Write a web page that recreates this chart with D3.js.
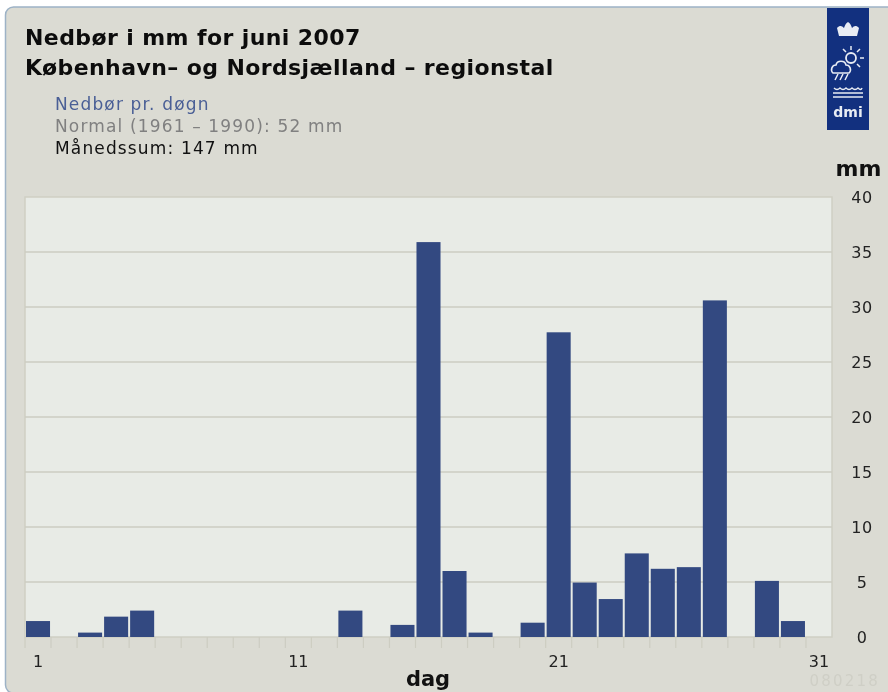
<!DOCTYPE html>
<html>

<head>
    <meta http-equiv="Content-Type" content="text/html; charset=utf-8" />
    <title>Nedbør juni 2007</title>
    <style type="text/css">
        * {
            margin: 0;
            padding: 0
        }

        html,
        body {
            width: 100%;
            height: 100%;
            background: #fff;
            overflow: hidden;
        }

        svg {
            display: block;
            /* the original is a slightly soft raster */
            filter: blur(0.45px);
        }

        text {
            font-family: "DejaVu Sans", sans-serif;
        }
    </style>
</head>

<body>
    <svg id="chart" width="888" height="692"></svg>
    <script src="https://cdn.jsdelivr.net/npm/d3@7"></script>
    <script>
        const days = d3.range(1, 32);
        const rain = [1.45, 0, 0.4, 1.85, 2.4, 0, 0, 0, 0, 0, 0, 0, 2.4, 0, 1.1, 35.9, 6.0, 0.4, 0, 1.3,
            27.7, 4.95, 3.45, 7.6, 6.2, 6.35, 30.6, 0, 5.1, 1.45, 0];
        const yTicks = [0, 5, 10, 15, 20, 25, 30, 35, 40];
        const dayLabels = [1, 11, 21, 31];
        const titleLines = ["Nedbør i mm for juni 2007", "København– og Nordsjælland – regionstal"];
        const legendLines = [
            { text: "Nedbør pr. døgn", color: "#4a5f96" },
            { text: "Normal (1961 – 1990): 52 mm", color: "#808080" },
            { text: "Månedssum: 147 mm", color: "#111111" }
        ];

        const svg = d3.select("#chart");
        const plot = { left: 25, right: 832, top: 197, bottom: 637 };

        // panel
        svg.append("path")
            .attr("d", "M5.5,684V15a8,8 0 0 1 8,-8H890V693H13.5a8,8 0 0 1 -8,-8Z")
            .attr("fill", "#dbdbd3")
            .attr("stroke", "#9db2c6")
            .attr("stroke-width", 1.5);

        const x = d3.scaleBand().domain(days).range([plot.left, plot.right]);
        const y = d3.scaleLinear().domain([0, 40]).range([plot.bottom, plot.top]);

        svg.append("rect")
            .attr("x", plot.left)
            .attr("y", plot.top)
            .attr("width", plot.right - plot.left)
            .attr("height", plot.bottom - plot.top)
            .attr("fill", "#e8ebe6")
            .attr("stroke", "#cfcfc4")
            .attr("stroke-width", 1.5);

        // gridlines
        svg.append("g").selectAll("line")
            .data(yTicks.slice(1, -1))
            .join("line")
            .attr("x1", plot.left)
            .attr("x2", plot.right)
            .attr("y1", d => y(d))
            .attr("y2", d => y(d))
            .attr("stroke", "#cdcdc2")
            .attr("stroke-width", 1.5);

        // bars
        svg.append("g").selectAll("rect")
            .data(days.filter((d, i) => rain[i] > 0))
            .join("rect")
            .attr("x", d => x(d) + 1)
            .attr("y", d => y(rain[d - 1]))
            .attr("width", x.bandwidth() - 2)
            .attr("height", d => plot.bottom - y(rain[d - 1]))
            .attr("fill", "#334981");

        // x axis: ticks on the band edges, labels in the middle of the band
        svg.append("g").selectAll("line")
            .data(days)
            .join("line")
            .attr("x1", d => x(d))
            .attr("x2", d => x(d))
            .attr("y1", plot.bottom)
            .attr("y2", plot.bottom + 11)
            .attr("stroke", "#cdcdc2")
            .attr("stroke-width", 1.2);

        svg.append("g").selectAll("text")
            .data(dayLabels)
            .join("text")
            .attr("x", d => x(d) + x.bandwidth() / 2)
            .attr("y", 667)
            .attr("text-anchor", "middle")
            .attr("font-size", 16)
            .attr("fill", "#222")
            .text(d => d);

        // y axis labels
        svg.append("g").selectAll("text")
            .data(yTicks)
            .join("text")
            .attr("x", 862)
            .attr("y", d => y(d) + 6)
            .attr("text-anchor", "middle")
            .attr("font-size", 16)
            .attr("letter-spacing", 0.5)
            .attr("fill", "#222")
            .text(d => d);

        svg.append("text")
            .attr("x", 858.5)
            .attr("y", 176)
            .attr("text-anchor", "middle")
            .attr("font-size", 22)
            .attr("font-weight", "bold")
            .attr("fill", "#111")
            .text("mm");

        svg.append("text")
            .attr("x", 428)
            .attr("y", 686)
            .attr("text-anchor", "middle")
            .attr("font-size", 21)
            .attr("font-weight", "bold")
            .attr("fill", "#111")
            .text("dag");

        svg.append("text")
            .attr("x", 880)
            .attr("y", 686)
            .attr("text-anchor", "end")
            .attr("font-size", 15)
            .attr("letter-spacing", 2.2)
            .attr("fill", "#cfcfc6")
            .text("080218");

        // titles
        svg.append("g").selectAll("text")
            .data(titleLines)
            .join("text")
            .attr("x", 25)
            .attr("y", (d, i) => 45 + i * 30)
            .attr("font-size", 22)
            .attr("font-weight", "bold")
            .attr("letter-spacing", 0.4)
            .attr("fill", "#0c0c0c")
            .text(d => d);

        svg.append("g").selectAll("text")
            .data(legendLines)
            .join("text")
            .attr("x", 55)
            .attr("y", (d, i) => 109.5 + i * 22)
            .attr("font-size", 17)
            .attr("letter-spacing", 1.15)
            .attr("fill", d => d.color)
            .text(d => d.text);

        // DMI logo
        const logoInk = "#e8ecf4";
        const logo = svg.append("g");
        logo.append("rect")
            .attr("x", 827)
            .attr("y", 8)
            .attr("width", 42)
            .attr("height", 122)
            .attr("fill", "#12307f");
        logo.append("path")
            .attr("d", "M839,36l-2,-8c3,-3 5,-2 7,0c1,-3 2,-5 4,-6c2,1 3,3 4,6c2,-2 4,-3 7,0l-2,8Z")
            .attr("fill", logoInk);
        logo.append("circle")
            .attr("cx", 851)
            .attr("cy", 58)
            .attr("r", 5)
            .attr("fill", "none")
            .attr("stroke", logoInk)
            .attr("stroke-width", 1.8);
        logo.append("path")
            .attr("d", "M851,46v4M860,49l-3,3M864,58h-4M860,67l-3,-3M843,49l3,3M838,74l-3,6M843,74l-3,6M848,74l-3,6")
            .attr("stroke", logoInk)
            .attr("stroke-width", 1.5)
            .attr("fill", "none");
        logo.append("path")
            .attr("d", "M833,73c-3,-3 -1,-8 3,-8c1,-5 9,-5 10,0c4,0 6,5 3,8Z")
            .attr("fill", "#12307f")
            .attr("stroke", logoInk)
            .attr("stroke-width", 1.6);
        logo.append("path")
            .attr("d", "M834,88q3,3 6,0q3,3 6,0q3,3 6,0q3,3 6,0q3,3 4,0M833,93h30M833,97h30")
            .attr("stroke", logoInk)
            .attr("stroke-width", 1.4)
            .attr("fill", "none");
        logo.append("text")
            .attr("x", 848)
            .attr("y", 117)
            .attr("text-anchor", "middle")
            .attr("font-size", 14)
            .attr("font-weight", "bold")
            .attr("fill", logoInk)
            .text("dmi");
    </script>
</body>

</html>
